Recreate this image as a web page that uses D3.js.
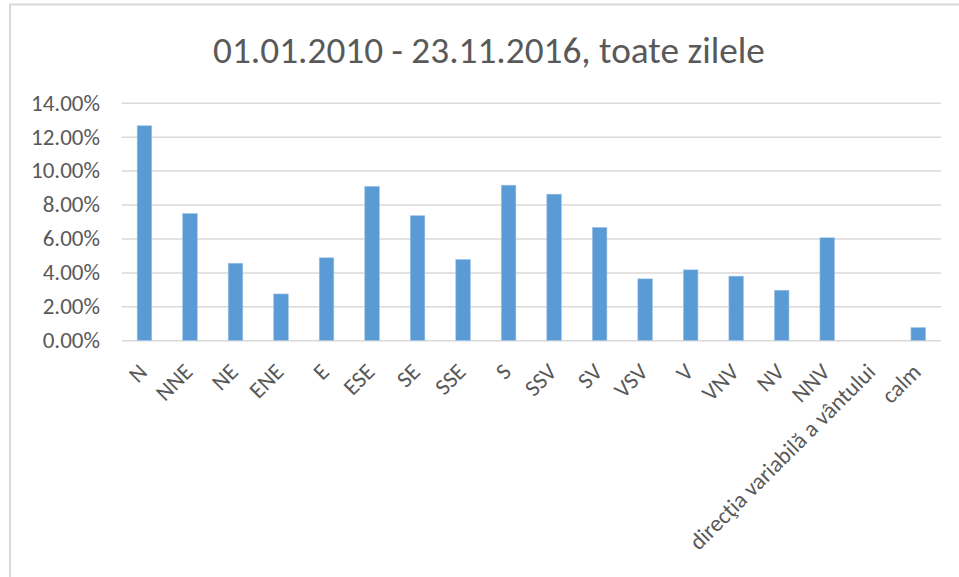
<!DOCTYPE html>
<html>
<head>
<meta charset="utf-8">
<script src="https://cdn.jsdelivr.net/npm/d3@7"></script>
<style>
  html, body { margin: 0; padding: 0; background: #fff; }
  svg { display: block; }
</style>
</head>
<body>
<div id="chart"></div>
<script>
// wind direction frequencies (percent of days)
var categories = ["N", "NNE", "NE", "ENE", "E", "ESE", "SE", "SSE", "S", "SSV", "SV", "VSV", "V", "VNV", "NV", "NNV", "direcţia variabilă a vântului", "calm"];
var values = [12.64, 7.47, 4.54, 2.73, 4.86, 9.07, 7.34, 4.76, 9.14, 8.61, 6.65, 3.62, 4.15, 3.78, 2.95, 6.04, 0, 0.75];
var yTicks = [0, 2, 4, 6, 8, 10, 12, 14];
var title = "01.01.2010 - 23.11.2016, toate zilele";

var width = 959, height = 577;
var fontFamily = "Carlito, Lato, 'Open Sans', sans-serif";
var textColor = "#595959";
var gridColor = "#d9d9d9";
var barColor = "#5b9bd5";

var svg = d3.select("#chart")
    .append("svg")
    .attr("width", width)
    .attr("height", height);

// helper: font size so a string gets a given width
function fitSize(str, target) {
    var t = svg.append("text")
        .attr("font-family", fontFamily)
        .attr("font-size", 100)
        .text(str);
    var len = t.node().getComputedTextLength();
    t.remove();
    return 100 * target / len;
}

var tickSize = fitSize("14.00%", 69);
var titleSize = fitSize(title, 552);

// chart frame (only top and left edges are visible in the picture)
svg.append("rect")
    .attr("x", 10)
    .attr("y", 4.5)
    .attr("width", 1000)
    .attr("height", 700)
    .attr("fill", "none")
    .attr("stroke", gridColor)
    .attr("stroke-width", 2);

// title
svg.append("text")
    .attr("x", 489)
    .attr("y", 63)
    .attr("text-anchor", "middle")
    .attr("font-family", fontFamily)
    .attr("font-size", titleSize)
    .attr("fill", textColor)
    .text(title);

// scales
var x = d3.scaleBand()
    .domain(categories)
    .range([121.7, 941])
    .paddingInner(0.68)
    .paddingOuter(0.34);

var y = d3.scaleLinear()
    .domain([0, 14])
    .range([340.3, 102.7]);

// gridlines + y labels
var yAxis = d3.axisLeft(y)
    .tickValues(yTicks)
    .tickSize(-(941 - 121.7))
    .tickPadding(21.7)
    .tickFormat(function (d) { return d.toFixed(2) + "%"; });

var gy = svg.append("g")
    .attr("transform", "translate(121.7,0)")
    .call(yAxis);
gy.select(".domain").remove();
gy.selectAll(".tick line")
    .attr("stroke", gridColor)
    .attr("stroke-width", 1.5);
gy.selectAll(".tick text")
    .attr("font-family", fontFamily)
    .attr("font-size", tickSize)
    .attr("fill", textColor);

// bars
svg.append("g")
    .selectAll("rect")
    .data(values)
    .enter()
    .append("rect")
    .attr("x", function (d, i) { return x(categories[i]); })
    .attr("y", function (d) { return y(d); })
    .attr("width", x.bandwidth())
    .attr("height", function (d) { return y(0) - y(d); })
    .attr("fill", barColor)
    .attr("stroke", "#9dc3e6")
    .attr("stroke-width", 0.6);

// x labels, rotated -45 degrees, ending just right of the band centre
var xAxis = d3.axisBottom(x).tickSize(0).tickPadding(0);
var gx = svg.append("g")
    .attr("transform", "translate(0,340.3)")
    .call(xAxis);
gx.select(".domain").remove();
gx.selectAll(".tick text")
    .attr("font-family", fontFamily)
    .attr("font-size", tickSize)
    .attr("fill", textColor)
    .attr("text-anchor", "end")
    .attr("y", 0)
    .attr("dy", 0)
    .attr("transform", "translate(4," + (22.7 + tickSize * 0.45) + ") rotate(-45)");
</script>
</body>
</html>
